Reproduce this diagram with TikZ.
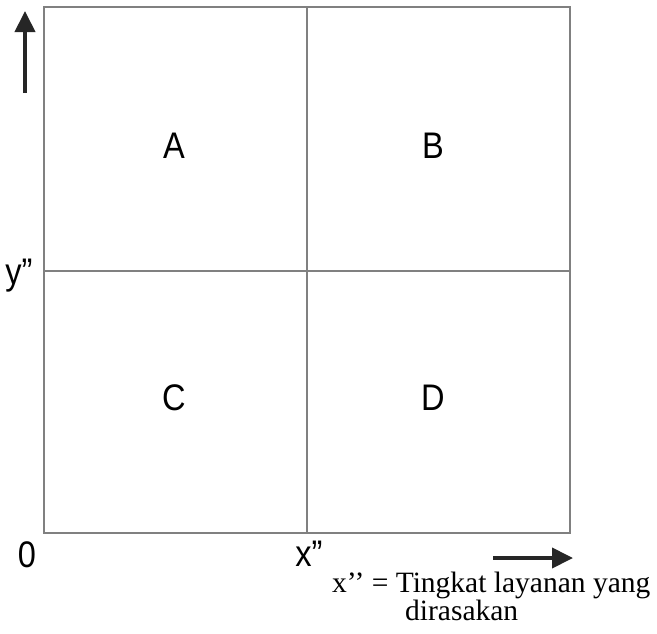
\documentclass[tikz,border=0pt]{standalone}
\usepackage{fontspec}
\setmainfont{Liberation Serif}
\newfontfamily\lsans{Liberation Sans}
\usetikzlibrary{arrows.meta}
\tikzset{
  grid/.style={draw=black!50, line width=1.1pt},
  axisarrow/.style={draw=black!85, fill=black!85, line width=4pt, -{Triangle[width=20pt,length=21pt]}},
  quad/.style={font=\lsans\fontsize{37}{37}\selectfont, inner sep=0pt, anchor=center},
  note/.style={font=\fontsize{29.5}{23}\selectfont, inner sep=0pt, align=left}
}
\begin{document}
\begin{tikzpicture}[x=1pt,y=-1pt]
\useasboundingbox (0,0) rectangle (657,633);
\coordinate (tl) at (44,7);
\coordinate (br) at (570,533);
\coordinate (mt) at (307,7);
\coordinate (mb) at (307,533);
\coordinate (ml) at (44,271);
\coordinate (mr) at (570,271);
\draw[grid] (tl) rectangle (br);
\draw[grid] (mt) -- (mb);
\draw[grid] (ml) -- (mr);
\node[quad] (A) at (174,146) {\scalebox{0.88}[1]{A}};
\node[quad] (B) at (433,146) {\scalebox{0.88}[1]{B}};
\node[quad] (C) at (174,398) {\scalebox{0.88}[1]{C}};
\node[quad] (D) at (433,398) {\scalebox{0.88}[1]{D}};
\node[quad] (y) at (19,276) {\scalebox{0.88}[1]{y”}};
\node[quad] (o) at (27,555) {\scalebox{0.88}[1]{0}};
\node[quad] (x) at (309,554) {\scalebox{0.88}[1]{x”}};
\coordinate (ua) at (25,93);
\coordinate (ub) at (25,11);
\draw[axisarrow] (ua) -- (ub);
\coordinate (ra) at (493,558);
\coordinate (rb) at (573,558);
\draw[axisarrow] (ra) -- (rb);
\node[note, anchor=north west] (lbl) at (332,572) {x’’ = Tingkat layanan yang\\\hspace*{73pt}dirasakan};
\end{tikzpicture}
\end{document}
